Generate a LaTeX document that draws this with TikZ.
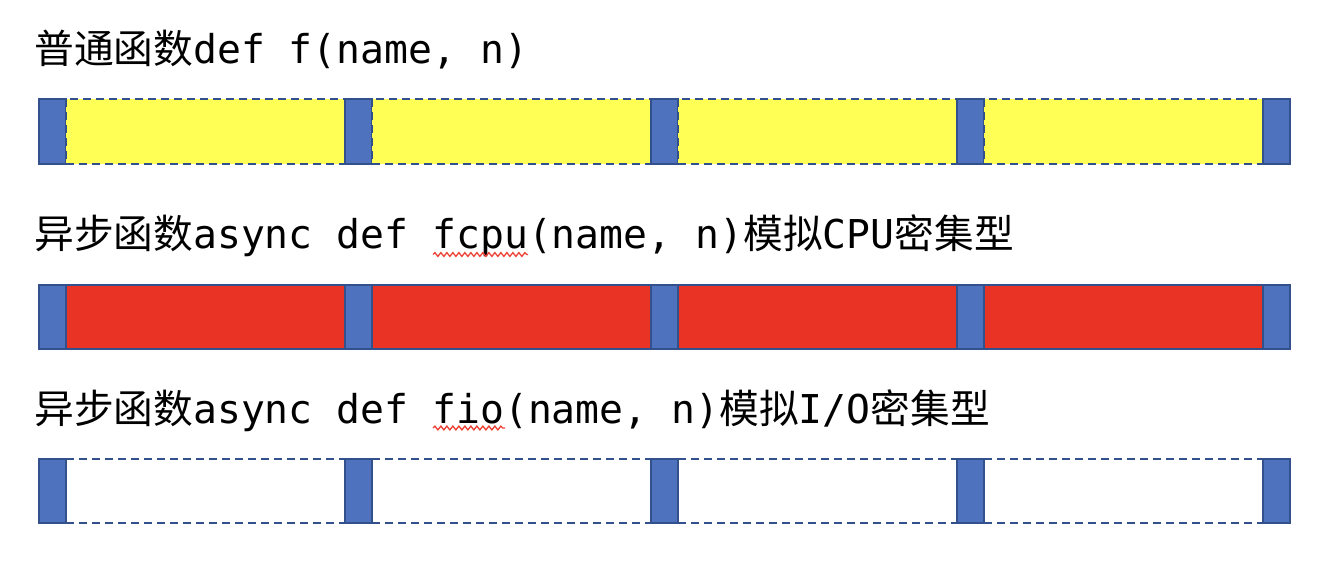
\documentclass[tikz,border=0pt]{standalone}
\usepackage{fontspec}
\newfontfamily\cjkfont{Noto Sans CJK SC}
\newfontfamily\codefont{DejaVu Sans Mono}
\usetikzlibrary{decorations.pathmorphing}
\definecolor{BlockBlue}{RGB}{79,114,190}
\definecolor{EdgeBlue}{RGB}{50,80,140}
\definecolor{WaitYellow}{RGB}{255,255,85}
\definecolor{CpuRed}{RGB}{233,51,36}
\definecolor{SpellRed}{RGB}{236,64,52}

\begin{document}
\begin{tikzpicture}[x=0.75pt,y=-0.75pt,
  title/.style={anchor=base west, inner sep=0pt, font=\fontsize{29.8}{35}\selectfont},
  blk/.style={draw=EdgeBlue, line width=1.5pt, fill=BlockBlue},
  busy/.style={draw=EdgeBlue, line width=1.5pt, fill=CpuRed},
  idle/.style={draw=EdgeBlue, line width=1.5pt, dash pattern=on 6pt off 3.75pt},
  squiggle/.style={SpellRed, line width=1pt, decorate,
    decoration={snake, amplitude=1.4pt, segment length=4.5pt}}]

\useasboundingbox (0,0) rectangle (1326,564);

% Titles
\node[title] (t1) at (34,63.5) {\cjkfont 普通函数\codefont def f(name, n)};
\node[title] (t2) at (34,248) {\cjkfont 异步函数\codefont async def fcpu(name, n)\cjkfont 模拟\codefont CPU\cjkfont 密集型};
\node[title] (t3) at (34,423) {\cjkfont 异步函数\codefont async def fio(name, n)\cjkfont 模拟\codefont I/O\cjkfont 密集型};

% spell-check marks
\draw[squiggle] (433,254.5) -- (528,254.5);
\draw[squiggle] (433,428) -- (505,428);

% Row 1: plain function
\foreach \i in {0,...,3} {
  \draw[blk] ({39+306.1*\i},99) rectangle +(27,65);
  \draw[idle, fill=WaitYellow] ({66+306.1*\i},99) rectangle +(279.1,65);
}
\draw[blk] (1263.4,99) rectangle +(27,65);

% Row 2: CPU bound
\foreach \i in {0,...,3} {
  \draw[blk] ({39+306.1*\i},285) rectangle +(27,64);
  \draw[busy] ({66+306.1*\i},285) rectangle +(279.1,64);
}
\draw[blk] (1263.4,285) rectangle +(27,64);

% Row 3: I/O bound
\foreach \i in {0,...,3} {
  \draw[idle] ({66+306.1*\i},459) -- +(279.1,0);
  \draw[idle] ({66+306.1*\i},523) -- +(279.1,0);
}
\foreach \i in {0,...,4}
  \draw[blk] ({39+306.1*\i},459) rectangle +(27,64);
\end{tikzpicture}
\end{document}
